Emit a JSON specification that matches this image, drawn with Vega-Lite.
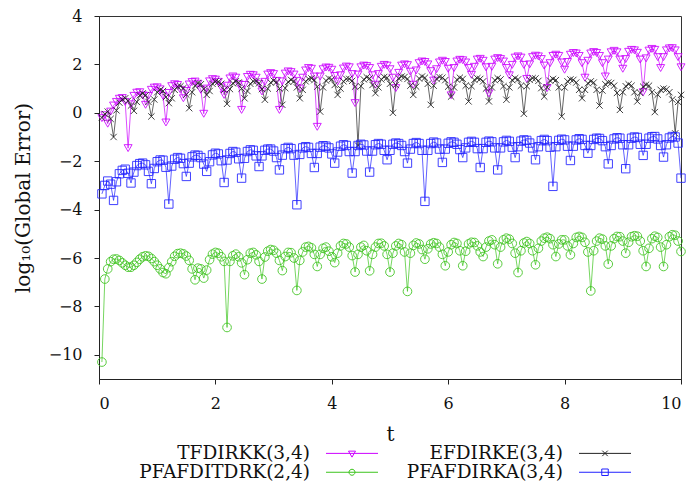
{
  "$schema": "https://vega.github.io/schema/vega-lite/v6.json",
  "width": 582,
  "height": 363,
  "autosize": {"type": "none"},
  "padding": {"left": 99, "top": 16, "right": 11, "bottom": 107},
  "background": "white",
  "config": {
    "view": {"stroke": "#333333", "strokeWidth": 1},
    "axis": {
      "labelFont": "DejaVu Serif", "labelFontSize": 16, "labelColor": "#111111",
      "titleFont": "DejaVu Serif", "titleFontSize": 20, "titleFontWeight": "normal", "titleColor": "#111111",
      "domainColor": "#222222", "tickColor": "#222222", "grid": false, "tickSize": 5
    },
    "legend": {
      "symbolSize": 100, "symbolOffset": 19.75, "symbolStrokeWidth": 1, "symbolOpacity": 1,
      "symbolFillColor": "transparent",
      "labelAlign": "right", "labelOffset": -51.25, "labelLimit": 400,
      "columnPadding": 26, "rowPadding": 0
    }
  },
  "data": {"values": [
{"s":"T","t":0.05,"v":-0.22},{"s":"T","t":0.1,"v":-0.1},{"s":"T","t":0.15,"v":-0.45},{"s":"T","t":0.2,"v":0.05},{"s":"T","t":0.25,"v":0.3},{"s":"T","t":0.3,"v":0.45},{"s":"T","t":0.35,"v":0.58},{"s":"T","t":0.4,"v":0.61},{"s":"T","t":0.45,"v":0.45},{"s":"T","t":0.5,"v":-1.46},
{"s":"T","t":0.55,"v":0.35},{"s":"T","t":0.6,"v":0.7},{"s":"T","t":0.65,"v":0.83},{"s":"T","t":0.7,"v":0.85},{"s":"T","t":0.75,"v":0.72},{"s":"T","t":0.8,"v":0.33},{"s":"T","t":0.85,"v":0.7},{"s":"T","t":0.9,"v":0.95},{"s":"T","t":0.95,"v":1.04},{"s":"T","t":1,"v":1.05},
{"s":"T","t":1.05,"v":0.97},{"s":"T","t":1.1,"v":0.7},{"s":"T","t":1.15,"v":-0.4},{"s":"T","t":1.2,"v":0.82},{"s":"T","t":1.25,"v":1.1},{"s":"T","t":1.3,"v":1.18},{"s":"T","t":1.35,"v":1.15},{"s":"T","t":1.4,"v":0.95},{"s":"T","t":1.45,"v":0.6},{"s":"T","t":1.5,"v":0.9},
{"s":"T","t":1.55,"v":1.17},{"s":"T","t":1.6,"v":1.27},{"s":"T","t":1.65,"v":1.29},{"s":"T","t":1.7,"v":1.2},{"s":"T","t":1.75,"v":0.95},{"s":"T","t":1.8,"v":-0.04},{"s":"T","t":1.85,"v":1.0},{"s":"T","t":1.9,"v":1.3},{"s":"T","t":1.95,"v":1.39},{"s":"T","t":2,"v":1.37},
{"s":"T","t":2.05,"v":1.28},{"s":"T","t":2.1,"v":1.05},{"s":"T","t":2.15,"v":0.74},{"s":"T","t":2.2,"v":1.12},{"s":"T","t":2.25,"v":1.42},{"s":"T","t":2.3,"v":1.5},{"s":"T","t":2.35,"v":1.45},{"s":"T","t":2.4,"v":1.18},{"s":"T","t":2.45,"v":0.12},{"s":"T","t":2.5,"v":1.15},
{"s":"T","t":2.55,"v":1.48},{"s":"T","t":2.6,"v":1.57},{"s":"T","t":2.65,"v":1.55},{"s":"T","t":2.7,"v":1.45},{"s":"T","t":2.75,"v":1.2},{"s":"T","t":2.8,"v":0.88},{"s":"T","t":2.85,"v":1.28},{"s":"T","t":2.9,"v":1.58},{"s":"T","t":2.95,"v":1.64},{"s":"T","t":3,"v":1.6},
{"s":"T","t":3.05,"v":1.32},{"s":"T","t":3.1,"v":0.12},{"s":"T","t":3.15,"v":1.3},{"s":"T","t":3.2,"v":1.62},{"s":"T","t":3.25,"v":1.71},{"s":"T","t":3.3,"v":1.68},{"s":"T","t":3.35,"v":1.58},{"s":"T","t":3.4,"v":1.32},{"s":"T","t":3.45,"v":1.0},{"s":"T","t":3.5,"v":1.45},
{"s":"T","t":3.55,"v":1.75},{"s":"T","t":3.6,"v":1.85},{"s":"T","t":3.65,"v":1.82},{"s":"T","t":3.7,"v":1.5},{"s":"T","t":3.75,"v":-0.58},{"s":"T","t":3.8,"v":1.5},{"s":"T","t":3.85,"v":1.8},{"s":"T","t":3.9,"v":1.87},{"s":"T","t":3.95,"v":1.86},{"s":"T","t":4,"v":1.78},
{"s":"T","t":4.05,"v":1.52},{"s":"T","t":4.1,"v":1.29},{"s":"T","t":4.15,"v":1.55},{"s":"T","t":4.2,"v":1.83},{"s":"T","t":4.25,"v":1.91},{"s":"T","t":4.3,"v":1.88},{"s":"T","t":4.35,"v":1.6},{"s":"T","t":4.4,"v":0.4},{"s":"T","t":4.45,"v":1.58},{"s":"T","t":4.5,"v":1.88},
{"s":"T","t":4.55,"v":1.95},{"s":"T","t":4.6,"v":1.93},{"s":"T","t":4.65,"v":1.85},{"s":"T","t":4.7,"v":1.55},{"s":"T","t":4.75,"v":1.16},{"s":"T","t":4.8,"v":1.6},{"s":"T","t":4.85,"v":1.9},{"s":"T","t":4.9,"v":1.98},{"s":"T","t":4.95,"v":1.95},{"s":"T","t":5,"v":1.8},
{"s":"T","t":5.05,"v":1.45},{"s":"T","t":5.1,"v":1.02},{"s":"T","t":5.15,"v":1.65},{"s":"T","t":5.2,"v":1.95},{"s":"T","t":5.25,"v":2.0},{"s":"T","t":5.3,"v":1.97},{"s":"T","t":5.35,"v":1.7},{"s":"T","t":5.4,"v":1.16},{"s":"T","t":5.45,"v":1.75},{"s":"T","t":5.5,"v":2.05},
{"s":"T","t":5.55,"v":2.12},{"s":"T","t":5.6,"v":2.1},{"s":"T","t":5.65,"v":2.0},{"s":"T","t":5.7,"v":1.72},{"s":"T","t":5.75,"v":1.33},{"s":"T","t":5.8,"v":1.8},{"s":"T","t":5.85,"v":2.08},{"s":"T","t":5.9,"v":2.15},{"s":"T","t":5.95,"v":2.1},{"s":"T","t":6,"v":1.82},
{"s":"T","t":6.05,"v":0.72},{"s":"T","t":6.1,"v":1.85},{"s":"T","t":6.15,"v":2.12},{"s":"T","t":6.2,"v":2.19},{"s":"T","t":6.25,"v":2.17},{"s":"T","t":6.3,"v":2.08},{"s":"T","t":6.35,"v":1.85},{"s":"T","t":6.4,"v":1.57},{"s":"T","t":6.45,"v":1.9},{"s":"T","t":6.5,"v":2.2},
{"s":"T","t":6.55,"v":2.23},{"s":"T","t":6.6,"v":2.15},{"s":"T","t":6.65,"v":1.88},{"s":"T","t":6.7,"v":0.8},{"s":"T","t":6.75,"v":1.9},{"s":"T","t":6.8,"v":2.2},{"s":"T","t":6.85,"v":2.26},{"s":"T","t":6.9,"v":2.22},{"s":"T","t":6.95,"v":2.12},{"s":"T","t":7,"v":1.85},
{"s":"T","t":7.05,"v":1.55},{"s":"T","t":7.1,"v":1.98},{"s":"T","t":7.15,"v":2.28},{"s":"T","t":7.2,"v":2.33},{"s":"T","t":7.25,"v":2.28},{"s":"T","t":7.3,"v":1.98},{"s":"T","t":7.35,"v":1.4},{"s":"T","t":7.4,"v":2.0},{"s":"T","t":7.45,"v":2.3},{"s":"T","t":7.5,"v":2.36},
{"s":"T","t":7.55,"v":2.33},{"s":"T","t":7.6,"v":2.22},{"s":"T","t":7.65,"v":1.95},{"s":"T","t":7.7,"v":1.02},{"s":"T","t":7.75,"v":2.05},{"s":"T","t":7.8,"v":2.35},{"s":"T","t":7.85,"v":2.4},{"s":"T","t":7.9,"v":2.35},{"s":"T","t":7.95,"v":2.08},{"s":"T","t":8,"v":1.78},
{"s":"T","t":8.05,"v":2.1},{"s":"T","t":8.1,"v":2.4},{"s":"T","t":8.15,"v":2.47},{"s":"T","t":8.2,"v":2.45},{"s":"T","t":8.25,"v":2.35},{"s":"T","t":8.3,"v":2.05},{"s":"T","t":8.35,"v":1.45},{"s":"T","t":8.4,"v":2.15},{"s":"T","t":8.45,"v":2.45},{"s":"T","t":8.5,"v":2.51},
{"s":"T","t":8.55,"v":2.47},{"s":"T","t":8.6,"v":2.35},{"s":"T","t":8.65,"v":2.05},{"s":"T","t":8.7,"v":1.5},{"s":"T","t":8.75,"v":2.2},{"s":"T","t":8.8,"v":2.5},{"s":"T","t":8.85,"v":2.56},{"s":"T","t":8.9,"v":2.5},{"s":"T","t":8.95,"v":2.2},{"s":"T","t":9,"v":1.82},
{"s":"T","t":9.05,"v":2.22},{"s":"T","t":9.1,"v":2.52},{"s":"T","t":9.15,"v":2.6},{"s":"T","t":9.2,"v":2.58},{"s":"T","t":9.25,"v":2.48},{"s":"T","t":9.3,"v":2.2},{"s":"T","t":9.35,"v":0.85},{"s":"T","t":9.4,"v":2.25},{"s":"T","t":9.45,"v":2.57},{"s":"T","t":9.5,"v":2.64},
{"s":"T","t":9.55,"v":2.6},{"s":"T","t":9.6,"v":2.3},{"s":"T","t":9.65,"v":1.85},{"s":"T","t":9.7,"v":2.3},{"s":"T","t":9.75,"v":2.58},{"s":"T","t":9.8,"v":2.66},{"s":"T","t":9.85,"v":2.67},{"s":"T","t":9.9,"v":2.58},{"s":"T","t":9.95,"v":2.3},{"s":"T","t":10,"v":1.88},
{"s":"E","t":0.05,"v":-0.2},{"s":"E","t":0.1,"v":-0.05},{"s":"E","t":0.15,"v":0.05},{"s":"E","t":0.2,"v":-0.25},{"s":"E","t":0.25,"v":-1.0},{"s":"E","t":0.3,"v":0.1},{"s":"E","t":0.35,"v":0.42},{"s":"E","t":0.4,"v":0.55},{"s":"E","t":0.45,"v":0.6},{"s":"E","t":0.5,"v":0.5},
{"s":"E","t":0.55,"v":0.3},{"s":"E","t":0.6,"v":0.08},{"s":"E","t":0.65,"v":0.45},{"s":"E","t":0.7,"v":0.72},{"s":"E","t":0.75,"v":0.8},{"s":"E","t":0.8,"v":0.72},{"s":"E","t":0.85,"v":0.45},{"s":"E","t":0.9,"v":-0.15},{"s":"E","t":0.95,"v":0.55},{"s":"E","t":1,"v":0.85},
{"s":"E","t":1.05,"v":0.95},{"s":"E","t":1.1,"v":0.9},{"s":"E","t":1.15,"v":0.65},{"s":"E","t":1.2,"v":0.4},{"s":"E","t":1.25,"v":0.6},{"s":"E","t":1.3,"v":0.95},{"s":"E","t":1.35,"v":1.08},{"s":"E","t":1.4,"v":1.1},{"s":"E","t":1.45,"v":1.02},{"s":"E","t":1.5,"v":0.75},
{"s":"E","t":1.55,"v":0.19},{"s":"E","t":1.6,"v":0.85},{"s":"E","t":1.65,"v":1.12},{"s":"E","t":1.7,"v":1.22},{"s":"E","t":1.75,"v":1.18},{"s":"E","t":1.8,"v":0.98},{"s":"E","t":1.85,"v":0.74},{"s":"E","t":1.9,"v":0.9},{"s":"E","t":1.95,"v":1.2},{"s":"E","t":2,"v":1.29},
{"s":"E","t":2.05,"v":1.28},{"s":"E","t":2.1,"v":1.2},{"s":"E","t":2.15,"v":0.95},{"s":"E","t":2.2,"v":0.37},{"s":"E","t":2.25,"v":0.98},{"s":"E","t":2.3,"v":1.22},{"s":"E","t":2.35,"v":1.3},{"s":"E","t":2.4,"v":1.25},{"s":"E","t":2.45,"v":1.0},{"s":"E","t":2.5,"v":0.6},
{"s":"E","t":2.55,"v":0.9},{"s":"E","t":2.6,"v":1.2},{"s":"E","t":2.65,"v":1.3},{"s":"E","t":2.7,"v":1.3},{"s":"E","t":2.75,"v":1.22},{"s":"E","t":2.8,"v":0.98},{"s":"E","t":2.85,"v":0.54},{"s":"E","t":2.9,"v":1.0},{"s":"E","t":2.95,"v":1.25},{"s":"E","t":3,"v":1.33},
{"s":"E","t":3.05,"v":1.27},{"s":"E","t":3.1,"v":1.0},{"s":"E","t":3.15,"v":0.33},{"s":"E","t":3.2,"v":1.02},{"s":"E","t":3.25,"v":1.28},{"s":"E","t":3.3,"v":1.36},{"s":"E","t":3.35,"v":1.3},{"s":"E","t":3.4,"v":1.05},{"s":"E","t":3.45,"v":0.6},{"s":"E","t":3.5,"v":0.95},
{"s":"E","t":3.55,"v":1.3},{"s":"E","t":3.6,"v":1.4},{"s":"E","t":3.65,"v":1.42},{"s":"E","t":3.7,"v":1.35},{"s":"E","t":3.75,"v":1.08},{"s":"E","t":3.8,"v":0.05},{"s":"E","t":3.85,"v":1.05},{"s":"E","t":3.9,"v":1.33},{"s":"E","t":3.95,"v":1.42},{"s":"E","t":4,"v":1.38},
{"s":"E","t":4.05,"v":1.15},{"s":"E","t":4.1,"v":0.74},{"s":"E","t":4.15,"v":1.0},{"s":"E","t":4.2,"v":1.3},{"s":"E","t":4.25,"v":1.4},{"s":"E","t":4.3,"v":1.4},{"s":"E","t":4.35,"v":1.32},{"s":"E","t":4.4,"v":1.08},{"s":"E","t":4.45,"v":-1.35},{"s":"E","t":4.5,"v":1.1},
{"s":"E","t":4.55,"v":1.38},{"s":"E","t":4.6,"v":1.47},{"s":"E","t":4.65,"v":1.42},{"s":"E","t":4.7,"v":1.15},{"s":"E","t":4.75,"v":0.81},{"s":"E","t":4.8,"v":1.05},{"s":"E","t":4.85,"v":1.38},{"s":"E","t":4.9,"v":1.48},{"s":"E","t":4.95,"v":1.45},{"s":"E","t":5,"v":1.2},
{"s":"E","t":5.05,"v":0.0},{"s":"E","t":5.1,"v":1.15},{"s":"E","t":5.15,"v":1.42},{"s":"E","t":5.2,"v":1.5},{"s":"E","t":5.25,"v":1.48},{"s":"E","t":5.3,"v":1.4},{"s":"E","t":5.35,"v":1.12},{"s":"E","t":5.4,"v":0.74},{"s":"E","t":5.45,"v":1.08},{"s":"E","t":5.5,"v":1.42},
{"s":"E","t":5.55,"v":1.5},{"s":"E","t":5.6,"v":1.45},{"s":"E","t":5.65,"v":1.2},{"s":"E","t":5.7,"v":0.33},{"s":"E","t":5.75,"v":1.12},{"s":"E","t":5.8,"v":1.4},{"s":"E","t":5.85,"v":1.48},{"s":"E","t":5.9,"v":1.45},{"s":"E","t":5.95,"v":1.35},{"s":"E","t":6,"v":1.08},
{"s":"E","t":6.05,"v":0.67},{"s":"E","t":6.1,"v":1.05},{"s":"E","t":6.15,"v":1.37},{"s":"E","t":6.2,"v":1.45},{"s":"E","t":6.25,"v":1.4},{"s":"E","t":6.3,"v":1.12},{"s":"E","t":6.35,"v":0.47},{"s":"E","t":6.4,"v":1.1},{"s":"E","t":6.45,"v":1.36},{"s":"E","t":6.5,"v":1.43},
{"s":"E","t":6.55,"v":1.4},{"s":"E","t":6.6,"v":1.3},{"s":"E","t":6.65,"v":1.0},{"s":"E","t":6.7,"v":0.47},{"s":"E","t":6.75,"v":1.05},{"s":"E","t":6.8,"v":1.35},{"s":"E","t":6.85,"v":1.43},{"s":"E","t":6.9,"v":1.38},{"s":"E","t":6.95,"v":1.1},{"s":"E","t":7,"v":0.54},
{"s":"E","t":7.05,"v":1.05},{"s":"E","t":7.1,"v":1.35},{"s":"E","t":7.15,"v":1.43},{"s":"E","t":7.2,"v":1.38},{"s":"E","t":7.25,"v":1.12},{"s":"E","t":7.3,"v":-0.04},{"s":"E","t":7.35,"v":1.1},{"s":"E","t":7.4,"v":1.36},{"s":"E","t":7.45,"v":1.43},{"s":"E","t":7.5,"v":1.42},
{"s":"E","t":7.55,"v":1.32},{"s":"E","t":7.6,"v":1.02},{"s":"E","t":7.65,"v":0.67},{"s":"E","t":7.7,"v":1.05},{"s":"E","t":7.75,"v":1.33},{"s":"E","t":7.8,"v":1.4},{"s":"E","t":7.85,"v":1.35},{"s":"E","t":7.9,"v":1.05},{"s":"E","t":7.95,"v":-0.15},{"s":"E","t":8,"v":1.05},
{"s":"E","t":8.05,"v":1.3},{"s":"E","t":8.1,"v":1.38},{"s":"E","t":8.15,"v":1.36},{"s":"E","t":8.2,"v":1.25},{"s":"E","t":8.25,"v":0.95},{"s":"E","t":8.3,"v":0.6},{"s":"E","t":8.35,"v":0.95},{"s":"E","t":8.4,"v":1.22},{"s":"E","t":8.45,"v":1.3},{"s":"E","t":8.5,"v":1.25},
{"s":"E","t":8.55,"v":0.95},{"s":"E","t":8.6,"v":0.3},{"s":"E","t":8.65,"v":0.92},{"s":"E","t":8.7,"v":1.18},{"s":"E","t":8.75,"v":1.25},{"s":"E","t":8.8,"v":1.23},{"s":"E","t":8.85,"v":1.12},{"s":"E","t":8.9,"v":0.82},{"s":"E","t":8.95,"v":0.12},{"s":"E","t":9,"v":0.85},
{"s":"E","t":9.05,"v":1.1},{"s":"E","t":9.1,"v":1.18},{"s":"E","t":9.15,"v":1.12},{"s":"E","t":9.2,"v":0.85},{"s":"E","t":9.25,"v":0.47},{"s":"E","t":9.3,"v":0.82},{"s":"E","t":9.35,"v":1.08},{"s":"E","t":9.4,"v":1.16},{"s":"E","t":9.45,"v":1.12},{"s":"E","t":9.5,"v":0.85},
{"s":"E","t":9.55,"v":0.03},{"s":"E","t":9.6,"v":0.75},{"s":"E","t":9.65,"v":0.95},{"s":"E","t":9.7,"v":1.0},{"s":"E","t":9.75,"v":0.97},{"s":"E","t":9.8,"v":0.85},{"s":"E","t":9.85,"v":0.55},{"s":"E","t":9.9,"v":-0.85},{"s":"E","t":9.95,"v":0.45},{"s":"E","t":10,"v":0.74},
{"s":"P","t":0.05,"v":-10.3},{"s":"P","t":0.1,"v":-6.87},{"s":"P","t":0.15,"v":-6.45},{"s":"P","t":0.2,"v":-6.15},{"s":"P","t":0.25,"v":-6.05},{"s":"P","t":0.3,"v":-6.04},{"s":"P","t":0.35,"v":-6.1},{"s":"P","t":0.4,"v":-6.2},{"s":"P","t":0.45,"v":-6.3},{"s":"P","t":0.5,"v":-6.38},
{"s":"P","t":0.55,"v":-6.38},{"s":"P","t":0.6,"v":-6.3},{"s":"P","t":0.65,"v":-6.18},{"s":"P","t":0.7,"v":-6.05},{"s":"P","t":0.75,"v":-5.95},{"s":"P","t":0.8,"v":-5.91},{"s":"P","t":0.85,"v":-5.93},{"s":"P","t":0.9,"v":-6.02},{"s":"P","t":0.95,"v":-6.15},{"s":"P","t":1,"v":-6.3},
{"s":"P","t":1.05,"v":-6.45},{"s":"P","t":1.1,"v":-6.6},{"s":"P","t":1.15,"v":-6.65},{"s":"P","t":1.2,"v":-6.4},{"s":"P","t":1.25,"v":-6.15},{"s":"P","t":1.3,"v":-5.93},{"s":"P","t":1.35,"v":-5.82},{"s":"P","t":1.4,"v":-5.8},{"s":"P","t":1.45,"v":-5.83},{"s":"P","t":1.5,"v":-5.92},
{"s":"P","t":1.55,"v":-6.1},{"s":"P","t":1.6,"v":-6.45},{"s":"P","t":1.65,"v":-6.9},{"s":"P","t":1.7,"v":-6.42},{"s":"P","t":1.75,"v":-6.45},{"s":"P","t":1.8,"v":-6.83},{"s":"P","t":1.85,"v":-6.5},{"s":"P","t":1.9,"v":-6.07},{"s":"P","t":1.95,"v":-5.84},{"s":"P","t":2,"v":-5.77},
{"s":"P","t":2.05,"v":-5.8},{"s":"P","t":2.1,"v":-5.95},{"s":"P","t":2.15,"v":-6.14},{"s":"P","t":2.2,"v":-8.87},{"s":"P","t":2.25,"v":-6.14},{"s":"P","t":2.3,"v":-5.91},{"s":"P","t":2.35,"v":-5.84},{"s":"P","t":2.4,"v":-5.95},{"s":"P","t":2.45,"v":-6.2},{"s":"P","t":2.5,"v":-6.69},
{"s":"P","t":2.55,"v":-6.07},{"s":"P","t":2.6,"v":-5.8},{"s":"P","t":2.65,"v":-5.77},{"s":"P","t":2.7,"v":-5.87},{"s":"P","t":2.75,"v":-6.14},{"s":"P","t":2.8,"v":-6.87},{"s":"P","t":2.85,"v":-5.96},{"s":"P","t":2.9,"v":-5.72},{"s":"P","t":2.95,"v":-5.65},{"s":"P","t":3,"v":-5.68},
{"s":"P","t":3.05,"v":-5.8},{"s":"P","t":3.1,"v":-6.1},{"s":"P","t":3.15,"v":-6.52},{"s":"P","t":3.2,"v":-5.94},{"s":"P","t":3.25,"v":-5.77},{"s":"P","t":3.3,"v":-5.78},{"s":"P","t":3.35,"v":-6.0},{"s":"P","t":3.4,"v":-7.34},{"s":"P","t":3.45,"v":-6.1},{"s":"P","t":3.5,"v":-5.75},
{"s":"P","t":3.55,"v":-5.55},{"s":"P","t":3.6,"v":-5.52},{"s":"P","t":3.65,"v":-5.58},{"s":"P","t":3.7,"v":-5.85},{"s":"P","t":3.75,"v":-6.35},{"s":"P","t":3.8,"v":-5.85},{"s":"P","t":3.85,"v":-5.6},{"s":"P","t":3.9,"v":-5.55},{"s":"P","t":3.95,"v":-5.72},{"s":"P","t":4,"v":-5.95},
{"s":"P","t":4.05,"v":-6.19},{"s":"P","t":4.1,"v":-5.8},{"s":"P","t":4.15,"v":-5.5},{"s":"P","t":4.2,"v":-5.4},{"s":"P","t":4.25,"v":-5.42},{"s":"P","t":4.3,"v":-5.55},{"s":"P","t":4.35,"v":-5.9},{"s":"P","t":4.4,"v":-6.58},{"s":"P","t":4.45,"v":-5.85},{"s":"P","t":4.5,"v":-5.55},
{"s":"P","t":4.55,"v":-5.48},{"s":"P","t":4.6,"v":-5.7},{"s":"P","t":4.65,"v":-6.53},{"s":"P","t":4.7,"v":-5.85},{"s":"P","t":4.75,"v":-5.55},{"s":"P","t":4.8,"v":-5.4},{"s":"P","t":4.85,"v":-5.39},{"s":"P","t":4.9,"v":-5.5},{"s":"P","t":4.95,"v":-5.85},{"s":"P","t":5,"v":-6.58},
{"s":"P","t":5.05,"v":-5.8},{"s":"P","t":5.1,"v":-5.5},{"s":"P","t":5.15,"v":-5.4},{"s":"P","t":5.2,"v":-5.45},{"s":"P","t":5.25,"v":-5.75},{"s":"P","t":5.3,"v":-7.38},{"s":"P","t":5.35,"v":-5.8},{"s":"P","t":5.4,"v":-5.48},{"s":"P","t":5.45,"v":-5.38},{"s":"P","t":5.5,"v":-5.42},
{"s":"P","t":5.55,"v":-5.65},{"s":"P","t":5.6,"v":-6.05},{"s":"P","t":5.65,"v":-5.62},{"s":"P","t":5.7,"v":-5.42},{"s":"P","t":5.75,"v":-5.37},{"s":"P","t":5.8,"v":-5.4},{"s":"P","t":5.85,"v":-5.55},{"s":"P","t":5.9,"v":-5.85},{"s":"P","t":5.95,"v":-6.32},{"s":"P","t":6,"v":-5.75},
{"s":"P","t":6.05,"v":-5.45},{"s":"P","t":6.1,"v":-5.36},{"s":"P","t":6.15,"v":-5.4},{"s":"P","t":6.2,"v":-5.7},{"s":"P","t":6.25,"v":-6.32},{"s":"P","t":6.3,"v":-5.72},{"s":"P","t":6.35,"v":-5.42},{"s":"P","t":6.4,"v":-5.35},{"s":"P","t":6.45,"v":-5.36},{"s":"P","t":6.5,"v":-5.5},
{"s":"P","t":6.55,"v":-5.75},{"s":"P","t":6.6,"v":-5.94},{"s":"P","t":6.65,"v":-5.55},{"s":"P","t":6.7,"v":-5.3},{"s":"P","t":6.75,"v":-5.25},{"s":"P","t":6.8,"v":-5.45},{"s":"P","t":6.85,"v":-6.24},{"s":"P","t":6.9,"v":-5.55},{"s":"P","t":6.95,"v":-5.25},{"s":"P","t":7,"v":-5.18},
{"s":"P","t":7.05,"v":-5.22},{"s":"P","t":7.1,"v":-5.4},{"s":"P","t":7.15,"v":-5.8},{"s":"P","t":7.2,"v":-6.6},{"s":"P","t":7.25,"v":-5.7},{"s":"P","t":7.3,"v":-5.38},{"s":"P","t":7.35,"v":-5.32},{"s":"P","t":7.4,"v":-5.4},{"s":"P","t":7.45,"v":-5.7},{"s":"P","t":7.5,"v":-6.28},
{"s":"P","t":7.55,"v":-5.6},{"s":"P","t":7.6,"v":-5.3},{"s":"P","t":7.65,"v":-5.18},{"s":"P","t":7.7,"v":-5.14},{"s":"P","t":7.75,"v":-5.2},{"s":"P","t":7.8,"v":-5.45},{"s":"P","t":7.85,"v":-5.94},{"s":"P","t":7.9,"v":-5.42},{"s":"P","t":7.95,"v":-5.25},{"s":"P","t":8,"v":-5.25},
{"s":"P","t":8.05,"v":-5.5},{"s":"P","t":8.1,"v":-5.87},{"s":"P","t":8.15,"v":-5.4},{"s":"P","t":8.2,"v":-5.15},{"s":"P","t":8.25,"v":-5.11},{"s":"P","t":8.3,"v":-5.15},{"s":"P","t":8.35,"v":-5.35},{"s":"P","t":8.4,"v":-5.75},{"s":"P","t":8.45,"v":-7.36},{"s":"P","t":8.5,"v":-5.7},
{"s":"P","t":8.55,"v":-5.3},{"s":"P","t":8.6,"v":-5.18},{"s":"P","t":8.65,"v":-5.22},{"s":"P","t":8.7,"v":-5.5},{"s":"P","t":8.75,"v":-6.25},{"s":"P","t":8.8,"v":-5.5},{"s":"P","t":8.85,"v":-5.2},{"s":"P","t":8.9,"v":-5.11},{"s":"P","t":8.95,"v":-5.12},{"s":"P","t":9,"v":-5.3},
{"s":"P","t":9.05,"v":-5.8},{"s":"P","t":9.1,"v":-5.35},{"s":"P","t":9.15,"v":-5.12},{"s":"P","t":9.2,"v":-5.08},{"s":"P","t":9.25,"v":-5.1},{"s":"P","t":9.3,"v":-5.3},{"s":"P","t":9.35,"v":-5.7},{"s":"P","t":9.4,"v":-6.35},{"s":"P","t":9.45,"v":-5.6},{"s":"P","t":9.5,"v":-5.2},
{"s":"P","t":9.55,"v":-5.1},{"s":"P","t":9.6,"v":-5.15},{"s":"P","t":9.65,"v":-5.55},{"s":"P","t":9.7,"v":-6.35},{"s":"P","t":9.75,"v":-5.45},{"s":"P","t":9.8,"v":-5.12},{"s":"P","t":9.85,"v":-5.04},{"s":"P","t":9.9,"v":-5.06},{"s":"P","t":9.95,"v":-5.3},{"s":"P","t":10,"v":-5.73},
{"s":"A","t":0.05,"v":-3.35},{"s":"A","t":0.1,"v":-3.0},{"s":"A","t":0.15,"v":-2.82},{"s":"A","t":0.2,"v":-2.95},{"s":"A","t":0.25,"v":-3.62},{"s":"A","t":0.3,"v":-2.85},{"s":"A","t":0.35,"v":-2.52},{"s":"A","t":0.4,"v":-2.38},{"s":"A","t":0.45,"v":-2.33},{"s":"A","t":0.5,"v":-2.5},
{"s":"A","t":0.55,"v":-2.9},{"s":"A","t":0.6,"v":-2.45},{"s":"A","t":0.65,"v":-2.18},{"s":"A","t":0.7,"v":-2.1},{"s":"A","t":0.75,"v":-2.08},{"s":"A","t":0.8,"v":-2.15},{"s":"A","t":0.85,"v":-2.42},{"s":"A","t":0.9,"v":-2.93},{"s":"A","t":0.95,"v":-2.3},{"s":"A","t":1,"v":-2.02},
{"s":"A","t":1.05,"v":-1.95},{"s":"A","t":1.1,"v":-1.96},{"s":"A","t":1.15,"v":-2.25},{"s":"A","t":1.2,"v":-3.77},{"s":"A","t":1.25,"v":-2.2},{"s":"A","t":1.3,"v":-1.92},{"s":"A","t":1.35,"v":-1.85},{"s":"A","t":1.4,"v":-1.88},{"s":"A","t":1.45,"v":-2.1},{"s":"A","t":1.5,"v":-2.63},
{"s":"A","t":1.55,"v":-2.08},{"s":"A","t":1.6,"v":-1.82},{"s":"A","t":1.65,"v":-1.75},{"s":"A","t":1.7,"v":-1.76},{"s":"A","t":1.75,"v":-1.85},{"s":"A","t":1.8,"v":-2.12},{"s":"A","t":1.85,"v":-2.42},{"s":"A","t":1.9,"v":-2.02},{"s":"A","t":1.95,"v":-1.74},{"s":"A","t":2,"v":-1.67},
{"s":"A","t":2.05,"v":-1.7},{"s":"A","t":2.1,"v":-1.98},{"s":"A","t":2.15,"v":-2.88},{"s":"A","t":2.2,"v":-1.95},{"s":"A","t":2.25,"v":-1.68},{"s":"A","t":2.3,"v":-1.6},{"s":"A","t":2.35,"v":-1.63},{"s":"A","t":2.4,"v":-1.9},{"s":"A","t":2.45,"v":-2.7},{"s":"A","t":2.5,"v":-1.88},
{"s":"A","t":2.55,"v":-1.6},{"s":"A","t":2.6,"v":-1.53},{"s":"A","t":2.65,"v":-1.55},{"s":"A","t":2.7,"v":-1.78},{"s":"A","t":2.75,"v":-2.22},{"s":"A","t":2.8,"v":-1.78},{"s":"A","t":2.85,"v":-1.55},{"s":"A","t":2.9,"v":-1.5},{"s":"A","t":2.95,"v":-1.5},{"s":"A","t":3,"v":-1.58},
{"s":"A","t":3.05,"v":-1.85},{"s":"A","t":3.1,"v":-2.36},{"s":"A","t":3.15,"v":-1.75},{"s":"A","t":3.2,"v":-1.48},{"s":"A","t":3.25,"v":-1.43},{"s":"A","t":3.3,"v":-1.48},{"s":"A","t":3.35,"v":-1.75},{"s":"A","t":3.4,"v":-3.8},{"s":"A","t":3.45,"v":-1.72},{"s":"A","t":3.5,"v":-1.45},
{"s":"A","t":3.55,"v":-1.4},{"s":"A","t":3.6,"v":-1.43},{"s":"A","t":3.65,"v":-1.68},{"s":"A","t":3.7,"v":-2.26},{"s":"A","t":3.75,"v":-1.68},{"s":"A","t":3.8,"v":-1.42},{"s":"A","t":3.85,"v":-1.36},{"s":"A","t":3.9,"v":-1.38},{"s":"A","t":3.95,"v":-1.45},{"s":"A","t":4,"v":-1.7},
{"s":"A","t":4.05,"v":-2.08},{"s":"A","t":4.1,"v":-1.62},{"s":"A","t":4.15,"v":-1.38},{"s":"A","t":4.2,"v":-1.32},{"s":"A","t":4.25,"v":-1.35},{"s":"A","t":4.3,"v":-1.6},{"s":"A","t":4.35,"v":-2.49},{"s":"A","t":4.4,"v":-1.6},{"s":"A","t":4.45,"v":-1.35},{"s":"A","t":4.5,"v":-1.3},
{"s":"A","t":4.55,"v":-1.33},{"s":"A","t":4.6,"v":-1.58},{"s":"A","t":4.65,"v":-2.45},{"s":"A","t":4.7,"v":-1.58},{"s":"A","t":4.75,"v":-1.32},{"s":"A","t":4.8,"v":-1.27},{"s":"A","t":4.85,"v":-1.3},{"s":"A","t":4.9,"v":-1.55},{"s":"A","t":4.95,"v":-1.94},{"s":"A","t":5,"v":-1.55},
{"s":"A","t":5.05,"v":-1.3},{"s":"A","t":5.1,"v":-1.25},{"s":"A","t":5.15,"v":-1.27},{"s":"A","t":5.2,"v":-1.35},{"s":"A","t":5.25,"v":-1.6},{"s":"A","t":5.3,"v":-2.08},{"s":"A","t":5.35,"v":-1.5},{"s":"A","t":5.4,"v":-1.27},{"s":"A","t":5.45,"v":-1.23},{"s":"A","t":5.5,"v":-1.27},
{"s":"A","t":5.55,"v":-1.55},{"s":"A","t":5.6,"v":-3.66},{"s":"A","t":5.65,"v":-1.55},{"s":"A","t":5.7,"v":-1.27},{"s":"A","t":5.75,"v":-1.21},{"s":"A","t":5.8,"v":-1.25},{"s":"A","t":5.85,"v":-1.5},{"s":"A","t":5.9,"v":-2.05},{"s":"A","t":5.95,"v":-1.5},{"s":"A","t":6,"v":-1.26},
{"s":"A","t":6.05,"v":-1.2},{"s":"A","t":6.1,"v":-1.22},{"s":"A","t":6.15,"v":-1.3},{"s":"A","t":6.2,"v":-1.52},{"s":"A","t":6.25,"v":-1.85},{"s":"A","t":6.3,"v":-1.45},{"s":"A","t":6.35,"v":-1.22},{"s":"A","t":6.4,"v":-1.18},{"s":"A","t":6.45,"v":-1.22},{"s":"A","t":6.5,"v":-1.48},
{"s":"A","t":6.55,"v":-2.26},{"s":"A","t":6.6,"v":-1.48},{"s":"A","t":6.65,"v":-1.22},{"s":"A","t":6.7,"v":-1.17},{"s":"A","t":6.75,"v":-1.2},{"s":"A","t":6.8,"v":-1.45},{"s":"A","t":6.85,"v":-2.36},{"s":"A","t":6.9,"v":-1.45},{"s":"A","t":6.95,"v":-1.2},{"s":"A","t":7,"v":-1.14},
{"s":"A","t":7.05,"v":-1.18},{"s":"A","t":7.1,"v":-1.42},{"s":"A","t":7.15,"v":-1.85},{"s":"A","t":7.2,"v":-1.4},{"s":"A","t":7.25,"v":-1.17},{"s":"A","t":7.3,"v":-1.12},{"s":"A","t":7.35,"v":-1.14},{"s":"A","t":7.4,"v":-1.25},{"s":"A","t":7.45,"v":-1.45},{"s":"A","t":7.5,"v":-1.94},
{"s":"A","t":7.55,"v":-1.4},{"s":"A","t":7.6,"v":-1.15},{"s":"A","t":7.65,"v":-1.1},{"s":"A","t":7.7,"v":-1.15},{"s":"A","t":7.75,"v":-1.42},{"s":"A","t":7.8,"v":-3.04},{"s":"A","t":7.85,"v":-1.4},{"s":"A","t":7.9,"v":-1.14},{"s":"A","t":7.95,"v":-1.09},{"s":"A","t":8,"v":-1.12},
{"s":"A","t":8.05,"v":-1.38},{"s":"A","t":8.1,"v":-1.97},{"s":"A","t":8.15,"v":-1.38},{"s":"A","t":8.2,"v":-1.12},{"s":"A","t":8.25,"v":-1.07},{"s":"A","t":8.3,"v":-1.1},{"s":"A","t":8.35,"v":-1.35},{"s":"A","t":8.4,"v":-1.67},{"s":"A","t":8.45,"v":-1.35},{"s":"A","t":8.5,"v":-1.1},
{"s":"A","t":8.55,"v":-1.05},{"s":"A","t":8.6,"v":-1.06},{"s":"A","t":8.65,"v":-1.15},{"s":"A","t":8.7,"v":-1.4},{"s":"A","t":8.75,"v":-2.11},{"s":"A","t":8.8,"v":-1.35},{"s":"A","t":8.85,"v":-1.08},{"s":"A","t":8.9,"v":-1.03},{"s":"A","t":8.95,"v":-1.05},{"s":"A","t":9,"v":-1.32},
{"s":"A","t":9.05,"v":-2.31},{"s":"A","t":9.1,"v":-1.32},{"s":"A","t":9.15,"v":-1.05},{"s":"A","t":9.2,"v":-1.0},{"s":"A","t":9.25,"v":-1.02},{"s":"A","t":9.3,"v":-1.3},{"s":"A","t":9.35,"v":-1.76},{"s":"A","t":9.4,"v":-1.3},{"s":"A","t":9.45,"v":-1.05},{"s":"A","t":9.5,"v":-0.99},
{"s":"A","t":9.55,"v":-0.98},{"s":"A","t":9.6,"v":-1.08},{"s":"A","t":9.65,"v":-1.35},{"s":"A","t":9.7,"v":-1.83},{"s":"A","t":9.75,"v":-1.32},{"s":"A","t":9.8,"v":-1.04},{"s":"A","t":9.85,"v":-0.98},{"s":"A","t":9.9,"v":-1.0},{"s":"A","t":9.95,"v":-1.25},{"s":"A","t":10,"v":-2.7}
  ]},
  "encoding": {
    "x": {
      "field": "t", "type": "quantitative",
      "scale": {"domain": [0, 10], "nice": false, "zero": false},
      "axis": {"values": [0, 2, 4, 6, 8, 10], "title": "t", "labelPadding": 11, "titlePadding": 13}
    },
    "y": {
      "field": "v", "type": "quantitative",
      "scale": {"domain": [-11, 4], "nice": false, "zero": false},
      "axis": {"values": [-10, -8, -6, -4, -2, 0, 2, 4], "title": "log₁₀(Global Error)", "labelPadding": 12, "titlePadding": 15}
    },
    "color": {
      "field": "s", "type": "nominal",
      "scale": {"domain": ["T", "E", "P", "A"], "range": ["#cc00ff", "#222222", "#3cc41c", "#2020ff"]},
      "legend": {
        "title": null, "orient": "none", "legendX": 224, "legendY": 428,
        "columns": 2, "direction": "horizontal",
        "symbolType": "M-5.2,0H5.2",
        "symbolSize": 100, "symbolOffset": 19.75, "symbolStrokeWidth": 1, "symbolOpacity": 1,
        "symbolFillColor": "transparent",
        "labelAlign": "right", "labelOffset": -51.25, "labelLimit": 400,
        "labelFont": "DejaVu Serif", "labelFontSize": 18.5, "labelColor": "#111111",
        "columnPadding": 26, "rowPadding": 0,
        "labelExpr": "datum.value === 'T' ? 'TFDIRKK(3,4)' : datum.value === 'E' ? 'EFDIRKE(3,4)' : datum.value === 'P' ? 'PFAFDITDRK(2,4)' : 'PFAFDIRKA(3,4)'"
      }
    }
  },
  "layer": [
    {"mark": {"type": "line", "strokeWidth": 1, "opacity": 0.7}},
    {
      "transform": [{"filter": "datum.t === 0.05"}],
      "mark": {"type": "point", "filled": false, "opacity": 0},
      "encoding": {
        "shape": {
          "field": "s", "type": "nominal",
          "scale": {
            "domain": ["T", "E", "P", "A"],
            "range": [
              "M-5.2,0H5.2M-0.7,-0.45H0.7L0,0.75Z",
              "M-5.2,0H5.2M-0.55,-0.55L0.55,0.55M-0.55,0.55L0.55,-0.55",
              "M-5.2,0H5.2M0.6,0A0.6,0.6,0,1,1,-0.6,0A0.6,0.6,0,1,1,0.6,0",
              "M-5.2,0H5.2M-0.65,-0.65H0.65V0.65H-0.65Z"
            ]
          }
        }
      }
    },
    {
      "transform": [{"filter": "datum.s === 'T'"}],
      "mark": {"type": "point", "shape": "triangle-down", "size": 64, "filled": false, "strokeWidth": 1, "opacity": 0.85}
    },
    {
      "transform": [{"filter": "datum.s === 'E'"}],
      "mark": {"type": "point", "shape": "M-1,-1L1,1M-1,1L1,-1", "size": 40, "filled": false, "strokeWidth": 1, "opacity": 0.85}
    },
    {
      "transform": [{"filter": "datum.s === 'P'"}],
      "mark": {"type": "point", "shape": "circle", "size": 75, "filled": false, "strokeWidth": 1, "opacity": 0.85}
    },
    {
      "transform": [{"filter": "datum.s === 'A'"}],
      "mark": {"type": "point", "shape": "square", "size": 70, "filled": false, "strokeWidth": 1, "opacity": 0.85}
    }
  ]
}
